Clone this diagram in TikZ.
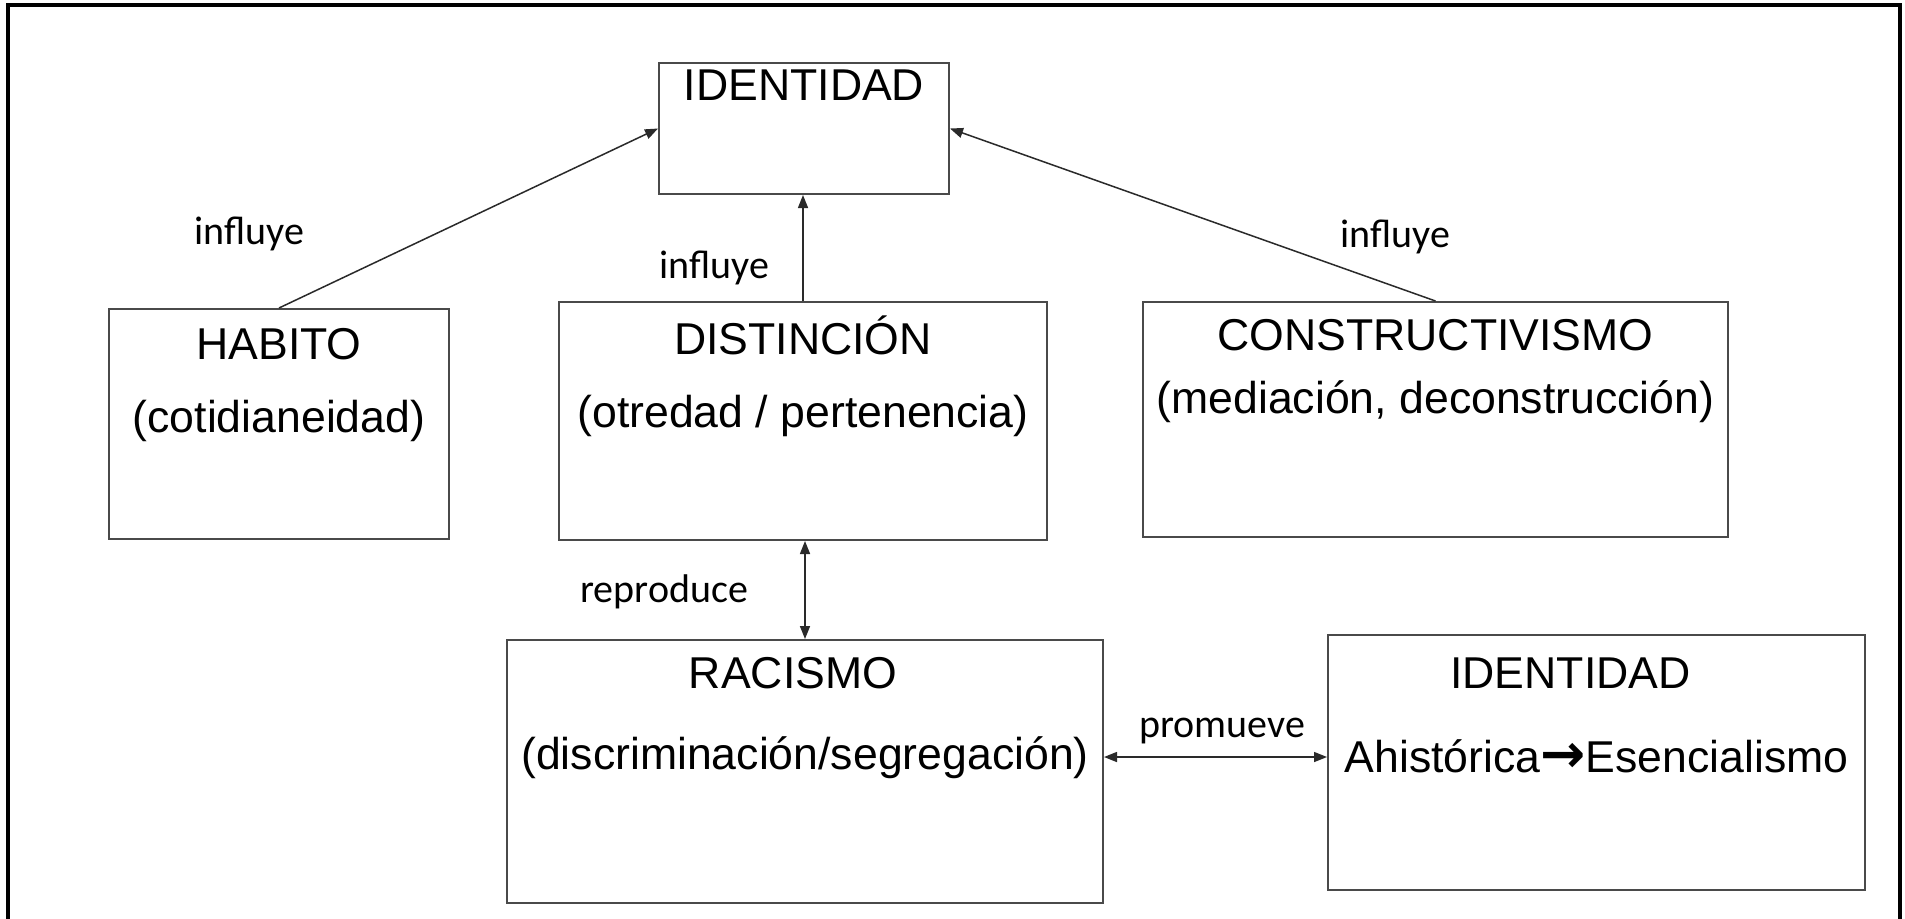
\documentclass[tikz,border=0pt]{standalone}
\usepackage{fontspec}
\setmainfont{Liberation Sans}
\newfontfamily\relfont{Carlito}
\newfontfamily\arrowfont{DejaVu Sans}
\usetikzlibrary{arrows.meta}
\definecolor{boxgray}{HTML}{4A4A4A}
\definecolor{linkgray}{HTML}{2A2A2A}
\begin{document}
\begin{tikzpicture}[x=0.5pt,y=-0.5pt,
  box/.style={draw=boxgray, line width=1pt, rectangle, inner sep=0pt},
  boxtext/.style={font=\fontsize{22.3}{26}\selectfont, anchor=base, inner sep=0pt},
  rel/.style={font=\relfont\fontsize{20}{24}\selectfont, anchor=base west, inner sep=0pt},
  link/.style={draw=linkgray, line width=0.75pt, -{Triangle[length=6.5pt,width=5pt]}},
  biglink/.style={draw=linkgray, line width=0.75pt, {Triangle[length=6.5pt,width=5pt]}-{Triangle[length=6.5pt,width=5pt]}}]
\useasboundingbox (0,0) rectangle (1905,918);
\fill[white] (0,0) rectangle (1905,918);

% outer frame (open at the bottom)
\draw[line width=1.6pt] (8,930) -- (8,5) -- (1900,5) -- (1900,930);

% boxes
\node[box, minimum width=145pt, minimum height=65.5pt] (ident) at (804,128.5) {};
\node[box, minimum width=170pt, minimum height=115pt] (habito) at (279,424) {};
\node[box, minimum width=244pt, minimum height=119pt] (dist) at (803,421) {};
\node[box, minimum width=292.5pt, minimum height=117.5pt] (constr) at (1435.5,419.5) {};
\node[box, minimum width=298pt, minimum height=131.5pt] (racismo) at (805,771.5) {};
\node[box, minimum width=268.5pt, minimum height=127.5pt] (ident2) at (1596.5,762.5) {};

% box texts
\node[boxtext] (identA) at ([yshift=-19pt]ident.north) {IDENTIDAD};
\node[boxtext] (habitoA) at ([yshift=-25.5pt]habito.north) {HABITO};
\node[boxtext] (habitoB) at ([yshift=-62pt]habito.north) {(cotidianeidad)};
\node[boxtext] (distA) at ([yshift=-26.5pt]dist.north) {DISTINCIÓN};
\node[boxtext] (distB) at ([yshift=-63pt]dist.north) {(otredad / pertenencia)};
\node[boxtext] (constrA) at ([yshift=-24.5pt]constr.north) {CONSTRUCTIVISMO};
\node[boxtext] (constrB) at ([yshift=-56pt]constr.north) {(mediación, deconstrucción)};
\node[boxtext] (racismoA) at ([xshift=-6pt,yshift=-24.5pt]racismo.north) {RACISMO};
\node[boxtext] (racismoB) at ([yshift=-65pt]racismo.north) {(discriminación/segregación)};
\node[boxtext] (ident2A) at ([xshift=-13pt,yshift=-27pt]ident2.north) {IDENTIDAD};
\node[boxtext] (ident2B) at ([yshift=-69pt]ident2.north) {Ahistórica{\arrowfont\bfseries\fontsize{27}{30}\selectfont →}Esencialismo};

% connectors
\draw[link] (habito.north) -- (ident.west);
\draw[link] (dist.north) -- (dist.north |- ident.south);
\draw[link] (constr.north) -- (ident.east);
\draw[biglink] (racismo.north |- dist.south) -- (racismo.north);
\draw[biglink] ([yshift=7.25pt]racismo.east) -- ([yshift=7.25pt]racismo.east -| ident2.west);

% connector labels
\node[rel] (l1) at (194,244) {influye};
\node[rel] (l2) at (659,278) {influye};
\node[rel] (l3) at (1340,247) {influye};
\node[rel] (l4) at (580,602) {reproduce};
\node[rel] (l5) at (1139,737) {promueve};
\end{tikzpicture}
\end{document}
